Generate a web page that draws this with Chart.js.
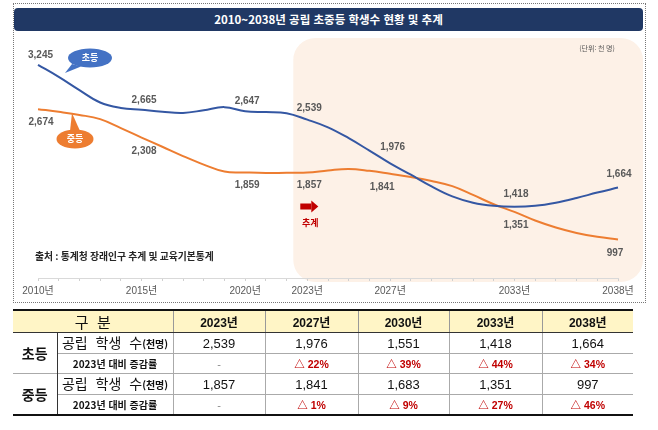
<!DOCTYPE html>
<html lang="ko">
<head>
<meta charset="utf-8">
<script src="https://cdn.jsdelivr.net/npm/chart.js@4.4.1/dist/chart.umd.min.js"></script>
<style>
  body { margin: 0; width: 658px; height: 430px; background: #fff; position: relative; overflow: hidden;
         font-family: 'Liberation Sans', 'Noto Sans CJK KR', sans-serif; }
  #frame { position: absolute; left: 13px; top: 3px; width: 631px; height: 298px; border: 1px dotted #777; }
  #banner { position: absolute; left: 14px; top: 8px; width: 629px; height: 23px; background: #203864;
            border-radius: 4px; color: #fff; font: bold 11.5px 'Noto Sans CJK KR', sans-serif;
            text-align: center; line-height: 23px; }
  #chart { position: absolute; left: 0; top: 0; }
  #tbl { position: absolute; left: 13px; top: 309px; width: 620px; border-collapse: collapse; table-layout: fixed;
         border-top: 2px solid #111; border-bottom: 2px solid #111; }
  #tbl th { background: #fff5c6; height: 21px; padding: 0; font-size: 12px; font-weight: bold; color: #111;
            border-bottom: 1px solid #333; border-left: 1px solid #999; }
  #tbl th.gubun { font: 15px 'Noto Sans CJK KR', sans-serif; border-left: none; }
  #tbl td { height: 19px; padding: 0; text-align: center; font-size: 13px; color: #111;
            border-top: 1px solid #aaa; border-left: 1px solid #aaa; }
  #tbl td.grp { font: bold 14px 'Noto Sans CJK KR', sans-serif; border-left: none; border-right: 1px solid #333; }
  #tbl td.sub { font: 14px 'Noto Sans CJK KR', sans-serif; word-spacing: 4px; line-height: 19px; }
  #tbl td.sub small { font-size: 10px; font-weight: bold; word-spacing: 0; }
  #tbl td.sub2 { font: bold 10px 'Noto Sans CJK KR', sans-serif; line-height: 19px; }
  #tbl td.pct { font-size: 10.5px; font-weight: bold; color: #c00000; }
  #tbl td.dash { color: #888; font-size: 11px; }
</style>
</head>
<body>
<div id="frame"></div>
<div id="banner">2010~2038년 공립 초중등 학생수 현황 및 추계</div>
<canvas id="chart" width="658" height="310"></canvas>
<table id="tbl"></table>
<script>
const years = [2010, 2011, 2012, 2013, 2014, 2015, 2016, 2017, 2018, 2019,
               2020, 2021, 2022, 2023, 2024, 2025, 2026, 2027, 2028, 2029,
               2030, 2031, 2032, 2033, 2034, 2035, 2036, 2037, 2038];
// 초등 (천 명)
const elemValues = [3245, 3090, 2920, 2760, 2690, 2665, 2640, 2625, 2660, 2700,
                    2647, 2636, 2622, 2539, 2440, 2300, 2140, 1976, 1830, 1680,
                    1551, 1470, 1430, 1418, 1430, 1470, 1530, 1600, 1664];
// 중등 (천 명)
const midValues = [2674, 2640, 2600, 2545, 2430, 2308, 2190, 2070, 1960, 1870,
                   1859, 1852, 1855, 1857, 1885, 1905, 1880, 1841, 1800, 1750,
                   1683, 1570, 1450, 1351, 1240, 1150, 1080, 1030, 997];
const tickYears = [2010, 2015, 2020, 2023, 2027, 2033, 2038];
const labelYears = [2010, 2015, 2020, 2023, 2027, 2033, 2038];

const tableYears = [2023, 2027, 2030, 2033, 2038];
const elemChange = [null, 22, 39, 44, 34];
const midChange = [null, 1, 9, 27, 46];

const BLUE = '#3457a3';
const ORANGE = '#ed7d31';

// label offsets (dx, dy) in px, same order as labelYears
const elemOffsets = [[2.5, -10], [2.5, -10], [2, -10], [2, -11], [2.5, -16], [1.5, -12], [1, -13]];
const midOffsets = [[3, 13.5], [2.5, 13.5], [2, 13], [2, 13], [-8, 13.5], [1.5, 13], [-3, 14]];

const fmt = v => v.toLocaleString('en-US');

function bubble(ctx, cx, cy, rx, ry, tail, color, text) {
  ctx.fillStyle = color;
  ctx.beginPath();
  ctx.ellipse(cx, cy, rx, ry, 0, 0, Math.PI * 2);
  ctx.fill();
  ctx.beginPath();
  ctx.moveTo(tail[0][0], tail[0][1]);
  ctx.lineTo(tail[1][0], tail[1][1]);
  ctx.lineTo(tail[2][0], tail[2][1]);
  ctx.closePath();
  ctx.fill();
  ctx.fillStyle = '#fff';
  ctx.font = "bold 9px 'Noto Sans CJK KR'";
  ctx.textAlign = 'center';
  ctx.textBaseline = 'middle';
  ctx.fillText(text, cx, cy);
}

const decor = {
  id: 'decor',
  beforeDraw(chart) {
    const { ctx, scales: { x } } = chart;
    const left = x.getPixelForValue(years.indexOf(2023)) - 14;
    ctx.save();
    ctx.fillStyle = '#fdf1e7';
    ctx.beginPath();
    ctx.roundRect(left, 38, 643 - left, 244, 22);
    ctx.fill();
    ctx.restore();
  },
  afterDatasetsDraw(chart) {
    const { ctx, scales: { x, y } } = chart;
    ctx.save();
    ctx.font = "bold 10px 'Liberation Sans'";
    ctx.fillStyle = '#595959';
    ctx.textAlign = 'center';
    ctx.textBaseline = 'middle';
    labelYears.forEach((yr, k) => {
      const i = years.indexOf(yr);
      const px = x.getPixelForValue(i);
      ctx.fillText(fmt(elemValues[i]), px + elemOffsets[k][0], y.getPixelForValue(elemValues[i]) + elemOffsets[k][1]);
      ctx.fillText(fmt(midValues[i]), px + midOffsets[k][0], y.getPixelForValue(midValues[i]) + midOffsets[k][1]);
    });

    bubble(ctx, 90, 58, 22, 9.5, [[72, 64], [81, 66.5], [65, 73]], '#4472c4', '초등');
    bubble(ctx, 75, 139, 18.5, 9.5, [[70, 131], [80, 131], [72, 113]], ORANGE, '중등');

    // 추계 arrow
    const ax = x.getPixelForValue(years.indexOf(2023)) - 7;
    ctx.fillStyle = '#c00000';
    ctx.fillRect(ax, 203.5, 11, 6);
    ctx.beginPath();
    ctx.moveTo(ax + 11, 200.5);
    ctx.lineTo(ax + 18, 206.5);
    ctx.lineTo(ax + 11, 212.5);
    ctx.closePath();
    ctx.fill();
    ctx.font = "bold 9px 'Noto Sans CJK KR'";
    ctx.fillText('추계', ax + 10, 223);

    ctx.fillStyle = '#262626';
    ctx.textAlign = 'left';
    ctx.font = "bold 9.8px 'Noto Sans CJK KR'";
    ctx.fillText('출처 : 통계청 장래인구 추계 및 교육기본통계', 35, 256);

    ctx.fillStyle = '#555';
    ctx.textAlign = 'center';
    ctx.font = "7px 'Noto Sans CJK KR'";
    ctx.fillText('(단위: 천 명)', 597, 48);
    ctx.restore();
  }
};

new Chart(document.getElementById('chart'), {
  type: 'line',
  data: {
    labels: years,
    datasets: [
      { label: '초등', data: elemValues, borderColor: BLUE, borderWidth: 2, pointRadius: 0, tension: 0.4 },
      { label: '중등', data: midValues, borderColor: ORANGE, borderWidth: 2, pointRadius: 0, tension: 0.4 }
    ]
  },
  options: {
    responsive: false,
    animation: false,
    devicePixelRatio: 1,
    layout: { padding: { left: 38, right: 40, top: 45, bottom: 8 } },
    plugins: { legend: { display: false }, tooltip: { enabled: false } },
    scales: {
      x: {
        grid: { drawOnChartArea: false, color: '#d0d0d0', tickLength: 3 },
        border: { color: '#d9d9d9' },
        afterFit: s => { s.height = 24; },
        ticks: {
          autoSkip: false, maxRotation: 0, padding: 4, color: '#595959',
          font: { family: "'Liberation Sans', 'Noto Sans CJK KR'", size: 10 },
          callback: (v, i) => tickYears.includes(years[i]) ? years[i] + '년' : ''
        }
      },
      y: { display: false, min: 500, max: 3500 }
    }
  },
  plugins: [decor]
});

// table
const tbl = document.getElementById('tbl');
let html = '<colgroup><col style="width:44px"><col style="width:116px"><col style="width:92px"><col style="width:93px"><col style="width:91px"><col style="width:93px"><col style="width:91px"></colgroup>';
html += '<tr><th colspan="2" class="gubun">구&nbsp;&nbsp;분</th>' + tableYears.map(y => '<th>' + y + '년</th>').join('') + '</tr>';
[['초등', elemValues, elemChange], ['중등', midValues, midChange]].forEach(([name, vals, chg]) => {
  html += '<tr><td rowspan="2" class="grp">' + name + '</td><td class="sub">공립 학생 수<small>(천명)</small></td>' +
    tableYears.map(y => '<td>' + fmt(vals[years.indexOf(y)]) + '</td>').join('') + '</tr>';
  html += '<tr><td class="sub2">2023년 대비 증감률</td>' +
    chg.map(c => c === null ? '<td class="dash">-</td>' : '<td class="pct">△ ' + c + '%</td>').join('') + '</tr>';
});
tbl.innerHTML = html;
</script>
</body>
</html>
